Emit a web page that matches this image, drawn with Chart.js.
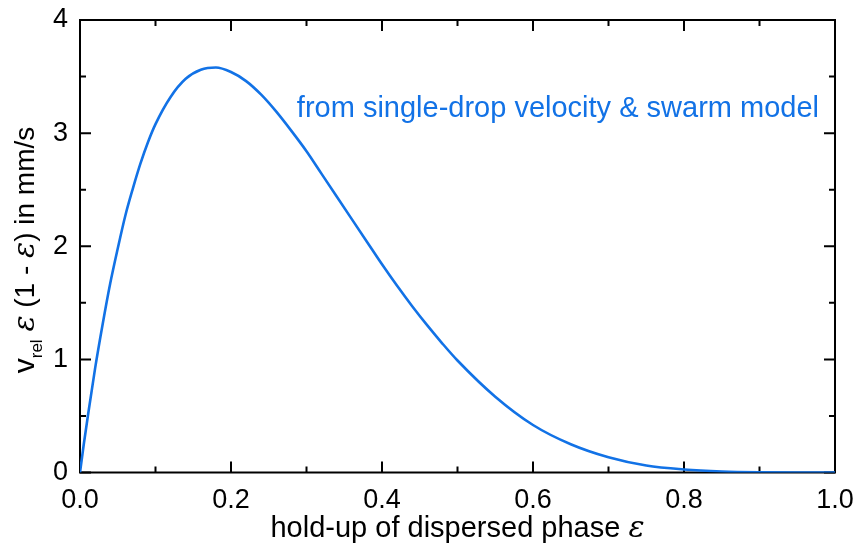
<!DOCTYPE html>
<html lang="en">
<head>
  <meta charset="UTF-8">
  <title>Flux vs hold-up</title>
  <script src="https://cdn.jsdelivr.net/npm/chart.js"></script>
  <style>
    body { margin: 0; background: #fff; }
    #chart { display: block; }
  </style>
</head>
<body>
  <canvas id="chart" width="860" height="551"></canvas>

  <script>
    // hold-up values (x) and v_rel*eps*(1-eps) in mm/s (y)
    const holdUp = [0, 0.005, 0.01, 0.02, 0.03, 0.04, 0.05, 0.06, 0.07, 0.08, 0.09, 0.10,
      0.12, 0.14, 0.16, 0.18, 0.20, 0.22, 0.24, 0.26, 0.28, 0.30, 0.32, 0.34, 0.36, 0.38,
      0.40, 0.42, 0.44, 0.46, 0.48, 0.50, 0.55, 0.60, 0.65, 0.70, 0.75, 0.80, 0.85, 0.90,
      0.95, 1.00];
    const flux = [0, 0.25, 0.48, 0.92, 1.31, 1.67, 1.98, 2.27, 2.51, 2.73, 2.92, 3.08,
      3.32, 3.48, 3.56, 3.58, 3.54, 3.46, 3.34, 3.19, 3.02, 2.84, 2.64, 2.44, 2.24, 2.04,
      1.84, 1.65, 1.47, 1.30, 1.14, 0.99, 0.67, 0.42, 0.25, 0.135, 0.062, 0.027, 0.009, 0.002,
      0.0003, 0];

    const xMajor = [0, 0.2, 0.4, 0.6, 0.8, 1.0];
    const xMinor = [0.1, 0.3, 0.5, 0.7, 0.9];
    const yMajor = [0, 1, 2, 3, 4];
    const yMinor = [0.5, 1.5, 2.5, 3.5];

    const seriesLabel = 'from single-drop velocity & swarm model';
    const lineColor = '#1272e6';
    const sans = '"Liberation Sans", Arial, sans-serif';
    const serifItalic = 'italic 30px "DejaVu Serif", "Liberation Serif", serif';

    // draw text made of several pieces with different fonts
    function drawRich(ctx, parts, x, y) {
      let total = 0;
      parts.forEach(p => { ctx.font = p.font; total += ctx.measureText(p.text).width; });
      let cx = x - total / 2;
      parts.forEach(p => {
        ctx.font = p.font;
        ctx.fillText(p.text, cx, y + (p.dy || 0));
        cx += ctx.measureText(p.text).width;
      });
    }

    // frame, inward ticks on all four sides
    const framePlugin = {
      id: 'frame',
      beforeDatasetsDraw(chart) {
        const { ctx, chartArea: a, scales: { x, y } } = chart;
        ctx.save();
        ctx.strokeStyle = '#000';
        ctx.lineWidth = 2;
        ctx.strokeRect(a.left, a.top, a.right - a.left, a.bottom - a.top);
        ctx.beginPath();
        const xt = (v, len) => {
          const px = x.getPixelForValue(v);
          ctx.moveTo(px, a.bottom); ctx.lineTo(px, a.bottom - len);
          ctx.moveTo(px, a.top); ctx.lineTo(px, a.top + len);
        };
        const yt = (v, len) => {
          const py = y.getPixelForValue(v);
          ctx.moveTo(a.left, py); ctx.lineTo(a.left + len, py);
          ctx.moveTo(a.right, py); ctx.lineTo(a.right - len, py);
        };
        xMajor.forEach(v => xt(v, 11));
        xMinor.forEach(v => xt(v, 6));
        yMajor.forEach(v => yt(v, 11));
        yMinor.forEach(v => yt(v, 6));
        ctx.stroke();
        ctx.restore();
      },
      afterDraw(chart) {
        const { ctx, chartArea: a } = chart;
        ctx.save();
        ctx.fillStyle = '#000';
        ctx.textBaseline = 'alphabetic';

        // x axis title
        drawRich(ctx, [
          { text: 'hold-up of dispersed phase ', font: '29px ' + sans },
          { text: 'ε', font: serifItalic }
        ], (a.left + a.right) / 2, 537);

        // y axis title (rotated)
        ctx.translate(34, 250);
        ctx.rotate(-Math.PI / 2);
        drawRich(ctx, [
          { text: 'v', font: '30px ' + sans },
          { text: 'rel', font: '17px ' + sans, dy: 8 },
          { text: ' ', font: '28px ' + sans },
          { text: 'ε', font: serifItalic },
          { text: ' (1 - ', font: '28px ' + sans },
          { text: 'ε', font: serifItalic },
          { text: ') in mm/s', font: '28px ' + sans }
        ], 0, 0);
        ctx.restore();

        // series label
        ctx.save();
        ctx.fillStyle = lineColor;
        ctx.font = '29px ' + sans;
        ctx.textAlign = 'right';
        ctx.textBaseline = 'alphabetic';
        ctx.fillText(seriesLabel, 819, 117);
        ctx.restore();
      }
    };

    const points = holdUp.map((v, i) => ({ x: v, y: flux[i] }));

    new Chart(document.getElementById('chart').getContext('2d'), {
      type: 'scatter',
      data: {
        datasets: [{
          label: seriesLabel,
          data: points,
          showLine: true,
          borderColor: lineColor,
          borderWidth: 2.6,
          pointRadius: 0,
          cubicInterpolationMode: 'monotone'
        }]
      },
      options: {
        responsive: false,
        animation: false,
        layout: { padding: { top: 20, right: 25, left: 0, bottom: 0 } },
        plugins: {
          legend: { display: false },
          tooltip: { enabled: false }
        },
        scales: {
          x: {
            type: 'linear',
            min: 0,
            max: 1,
            afterFit: s => {
              s.height = 78.5;
              s.paddingLeft = 0;
              s.paddingRight = 0;
            },
            afterBuildTicks: s => { s.ticks = xMajor.map(v => ({ value: v })); },
            grid: { display: false, drawTicks: false },
            border: { display: false },
            ticks: {
              padding: 12,
              color: '#000',
              font: { family: sans, size: 27 },
              callback: v => v.toFixed(1),
              maxRotation: 0
            }
          },
          y: {
            min: 0,
            max: 4,
            afterFit: s => {
              s.width = 80;
              s.paddingTop = 0;
              s.paddingBottom = 0;
            },
            afterBuildTicks: s => { s.ticks = yMajor.map(v => ({ value: v })); },
            grid: { display: false, drawTicks: false },
            border: { display: false },
            ticks: {
              padding: 12,
              color: '#000',
              font: { family: sans, size: 27 },
              callback: v => String(v)
            }
          }
        }
      },
      plugins: [framePlugin]
    });
  </script>
</body>
</html>
